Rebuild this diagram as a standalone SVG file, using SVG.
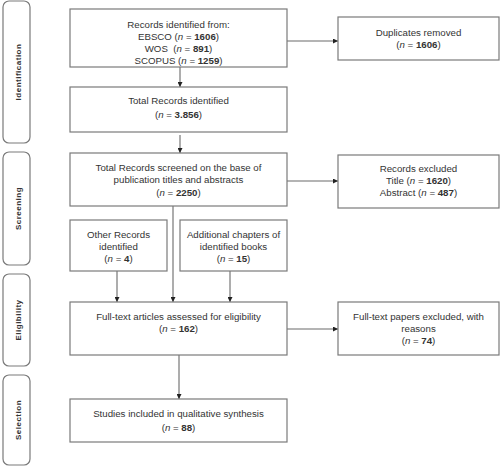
<svg xmlns="http://www.w3.org/2000/svg" width="500" height="467" viewBox="0 0 500 467">
<defs>
<marker id="ah" viewBox="0 0 10 10" refX="10" refY="5" markerWidth="5" markerHeight="5" orient="auto" markerUnits="userSpaceOnUse">
<path d="M0,0 L10,5 L0,10 z" fill="#222"/>
</marker>
<style>
.box{fill:#fff;stroke:#7a7a7a;stroke-width:1.2}
.side{fill:#fff;stroke:#7a7a7a;stroke-width:1.2}
.t{font-family:"Liberation Sans",Arial,sans-serif;font-size:9.7px;fill:#333;text-anchor:middle}
.s{font-family:"Liberation Sans",Arial,sans-serif;font-size:8px;font-weight:bold;letter-spacing:0.5px;fill:#333;text-anchor:middle}
.b{font-weight:bold}
.i{font-style:italic}
.c{fill:none;stroke:#6a6a6a;stroke-width:1.1;marker-end:url(#ah)}
</style>
</defs>
<rect width="500" height="467" fill="#fff"/>

<g id="phase-identification">
<rect class="side" x="3" y="1" width="27" height="142" rx="6"/>
<text class="s" transform="translate(20.5,72) rotate(-90)">Identification</text>
</g>
<g id="phase-screening">
<rect class="side" x="3" y="152" width="27" height="113" rx="6"/>
<text class="s" transform="translate(20.5,208.5) rotate(-90)">Screening</text>
</g>
<g id="phase-eligibility">
<rect class="side" x="3" y="274" width="27" height="92" rx="6"/>
<text class="s" transform="translate(20.5,320) rotate(-90)">Eligibility</text>
</g>
<g id="phase-selection">
<rect class="side" x="3" y="375" width="27" height="90" rx="6"/>
<text class="s" transform="translate(20.5,420) rotate(-90)">Selection</text>
</g>

<g id="connectors">
<line class="c" x1="180" y1="67" x2="180" y2="87"/>
<line class="c" x1="180" y1="135" x2="180" y2="153"/>
<line class="c" x1="287" y1="41" x2="338" y2="41"/>
<line class="c" x1="287" y1="181" x2="338" y2="181"/>
<line class="c" x1="173" y1="206" x2="173" y2="302"/>
<line class="c" x1="117" y1="271" x2="117" y2="302"/>
<line class="c" x1="230" y1="271" x2="230" y2="302"/>
<line class="c" x1="287" y1="329" x2="338" y2="329"/>
<line class="c" x1="179" y1="355" x2="179" y2="399"/>
</g>

<g id="records-identified">
<rect class="box" x="70" y="9" width="217" height="58"/>
<text class="t" x="178.5" y="27.5">Records identified from:</text>
<text class="t" x="178.5" y="39.5">EBSCO (<tspan class="i">n</tspan> = <tspan class="b">1606</tspan>)</text>
<text class="t" x="178.5" y="51.5">WOS&#160; (<tspan class="i">n</tspan> = <tspan class="b">891</tspan>)</text>
<text class="t" x="178.5" y="63.5">SCOPUS (<tspan class="i">n</tspan> = <tspan class="b">1259</tspan>)</text>
</g>

<g id="duplicates-removed">
<rect class="box" x="338" y="17" width="161" height="43"/>
<text class="t" x="418.5" y="35.5">Duplicates removed</text>
<text class="t" x="418.5" y="47.5">(<tspan class="i">n</tspan> = <tspan class="b">1606</tspan>)</text>
</g>

<g id="total-records">
<rect class="box" x="70" y="87" width="217" height="45"/>
<text class="t" x="178.5" y="103.5">Total Records identified</text>
<text class="t" x="178.5" y="117.5">(<tspan class="i">n</tspan> = <tspan class="b">3.856</tspan>)</text>
</g>

<g id="records-screened">
<rect class="box" x="70" y="153" width="217" height="53"/>
<text class="t" x="178.5" y="170.5">Total Records screened on the base of</text>
<text class="t" x="178.5" y="182.5">publication titles and abstracts</text>
<text class="t" x="178.5" y="195.5">(<tspan class="i">n</tspan> = <tspan class="b">2250</tspan>)</text>
</g>

<g id="records-excluded">
<rect class="box" x="338" y="155" width="161" height="53"/>
<text class="t" x="418.5" y="171.5">Records excluded</text>
<text class="t" x="418.5" y="183.5">Title (<tspan class="i">n</tspan> = <tspan class="b">1620</tspan>)</text>
<text class="t" x="418.5" y="196">Abstract (<tspan class="i">n</tspan> = <tspan class="b">487</tspan>)</text>
</g>

<g id="other-records">
<rect class="box" x="70" y="220" width="97" height="51"/>
<text class="t" x="118.5" y="237.5">Other Records</text>
<text class="t" x="118.5" y="249.5">identified</text>
<text class="t" x="118.5" y="261.5">(<tspan class="i">n</tspan> = <tspan class="b">4</tspan>)</text>
</g>

<g id="additional-chapters">
<rect class="box" x="180" y="220" width="107" height="51"/>
<text class="t" x="233.5" y="237.5">Additional chapters of</text>
<text class="t" x="233.5" y="249.5">identified books</text>
<text class="t" x="233.5" y="261.5">(<tspan class="i">n</tspan> = <tspan class="b">15</tspan>)</text>
</g>

<g id="full-text-assessed">
<rect class="box" x="70" y="302" width="217" height="53"/>
<text class="t" x="178.5" y="319.5">Full-text articles assessed for eligibility</text>
<text class="t" x="178.5" y="331.5">(<tspan class="i">n</tspan> = <tspan class="b">162</tspan>)</text>
</g>

<g id="full-text-excluded">
<rect class="box" x="338" y="302" width="161" height="53"/>
<text class="t" x="418.5" y="319.5">Full-text papers excluded, with</text>
<text class="t" x="418.5" y="331.5">reasons</text>
<text class="t" x="418.5" y="344">(<tspan class="i">n</tspan> = <tspan class="b">74</tspan>)</text>
</g>

<g id="studies-included">
<rect class="box" x="70" y="399" width="217" height="43"/>
<text class="t" x="178.5" y="416.5">Studies included in qualitative synthesis</text>
<text class="t" x="178.5" y="430.5">(<tspan class="i">n</tspan> = <tspan class="b">88</tspan>)</text>
</g>
</svg>
